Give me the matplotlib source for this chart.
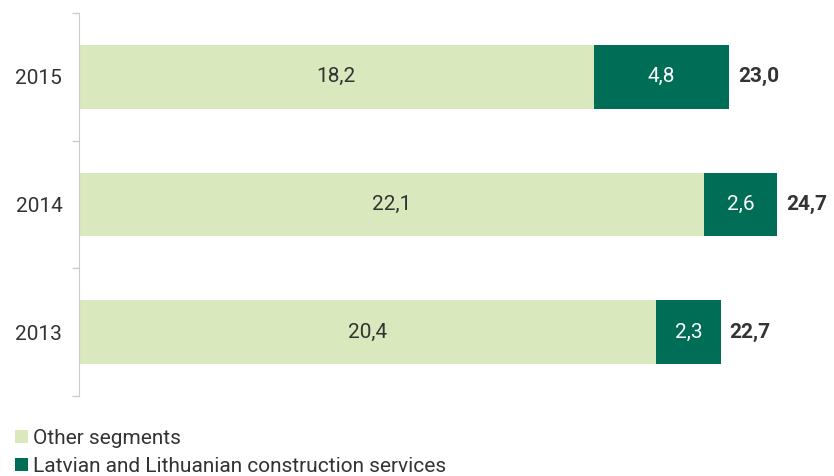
import matplotlib.pyplot as plt

plt.rcParams['font.family'] = ['Roboto', 'DejaVu Sans']

years = ['2013', '2014', '2015']
other = [20.4, 22.1, 18.2]
construction = [2.3, 2.6, 4.8]
totals = [22.7, 24.7, 23.0]

light = '#d9e8bd'
dark = '#006e56'
txt = '#333333'

def fmt(v):
    return f'{v:.1f}'.replace('.', ',')

fig = plt.figure(figsize=(8.34, 4.76), dpi=100)
ax = fig.add_axes([79/834, 80/476, 1 - 79/834, 383/476])

pos = range(len(years))
ax.barh(pos, other, height=0.5, color=light, label='Other segments')
ax.barh(pos, construction, left=other, height=0.5, color=dark,
        label='Latvian and Lithuanian construction services')

for i in pos:
    ax.text(other[i] / 2, i, fmt(other[i]), ha='center', va='center',
            fontsize=15, color=txt)
    ax.text(other[i] + construction[i] / 2, i, fmt(construction[i]),
            ha='center', va='center', fontsize=15, color='white')
    ax.text(totals[i] + 0.3, i, fmt(totals[i]), ha='left', va='center',
            fontsize=15, fontweight='bold', color=txt)

ax.set_xlim(0, 26.7)
ax.set_ylim(-0.5, 2.5)
ax.set_yticks(list(pos))
ax.set_yticklabels(years, fontsize=15, color=txt)
ax.tick_params(axis='y', which='major', length=0, pad=12)
ax.set_yticks([-0.5, 0.5, 1.5, 2.5], minor=True)
ax.tick_params(axis='y', which='minor', length=5, color='#cccccc', width=1)
ax.set_xticks([])
for s in ['top', 'right', 'bottom']:
    ax.spines[s].set_visible(False)
ax.spines['left'].set_color('#cccccc')

fig.legend(loc='upper left', bbox_to_anchor=(0.008, 0.117), frameon=False,
           fontsize=15, handlelength=0.6, handleheight=0.6, handletextpad=0.25,
           labelspacing=0.45, borderaxespad=0, labelcolor=txt)

fig.savefig('out.png', dpi=100)
